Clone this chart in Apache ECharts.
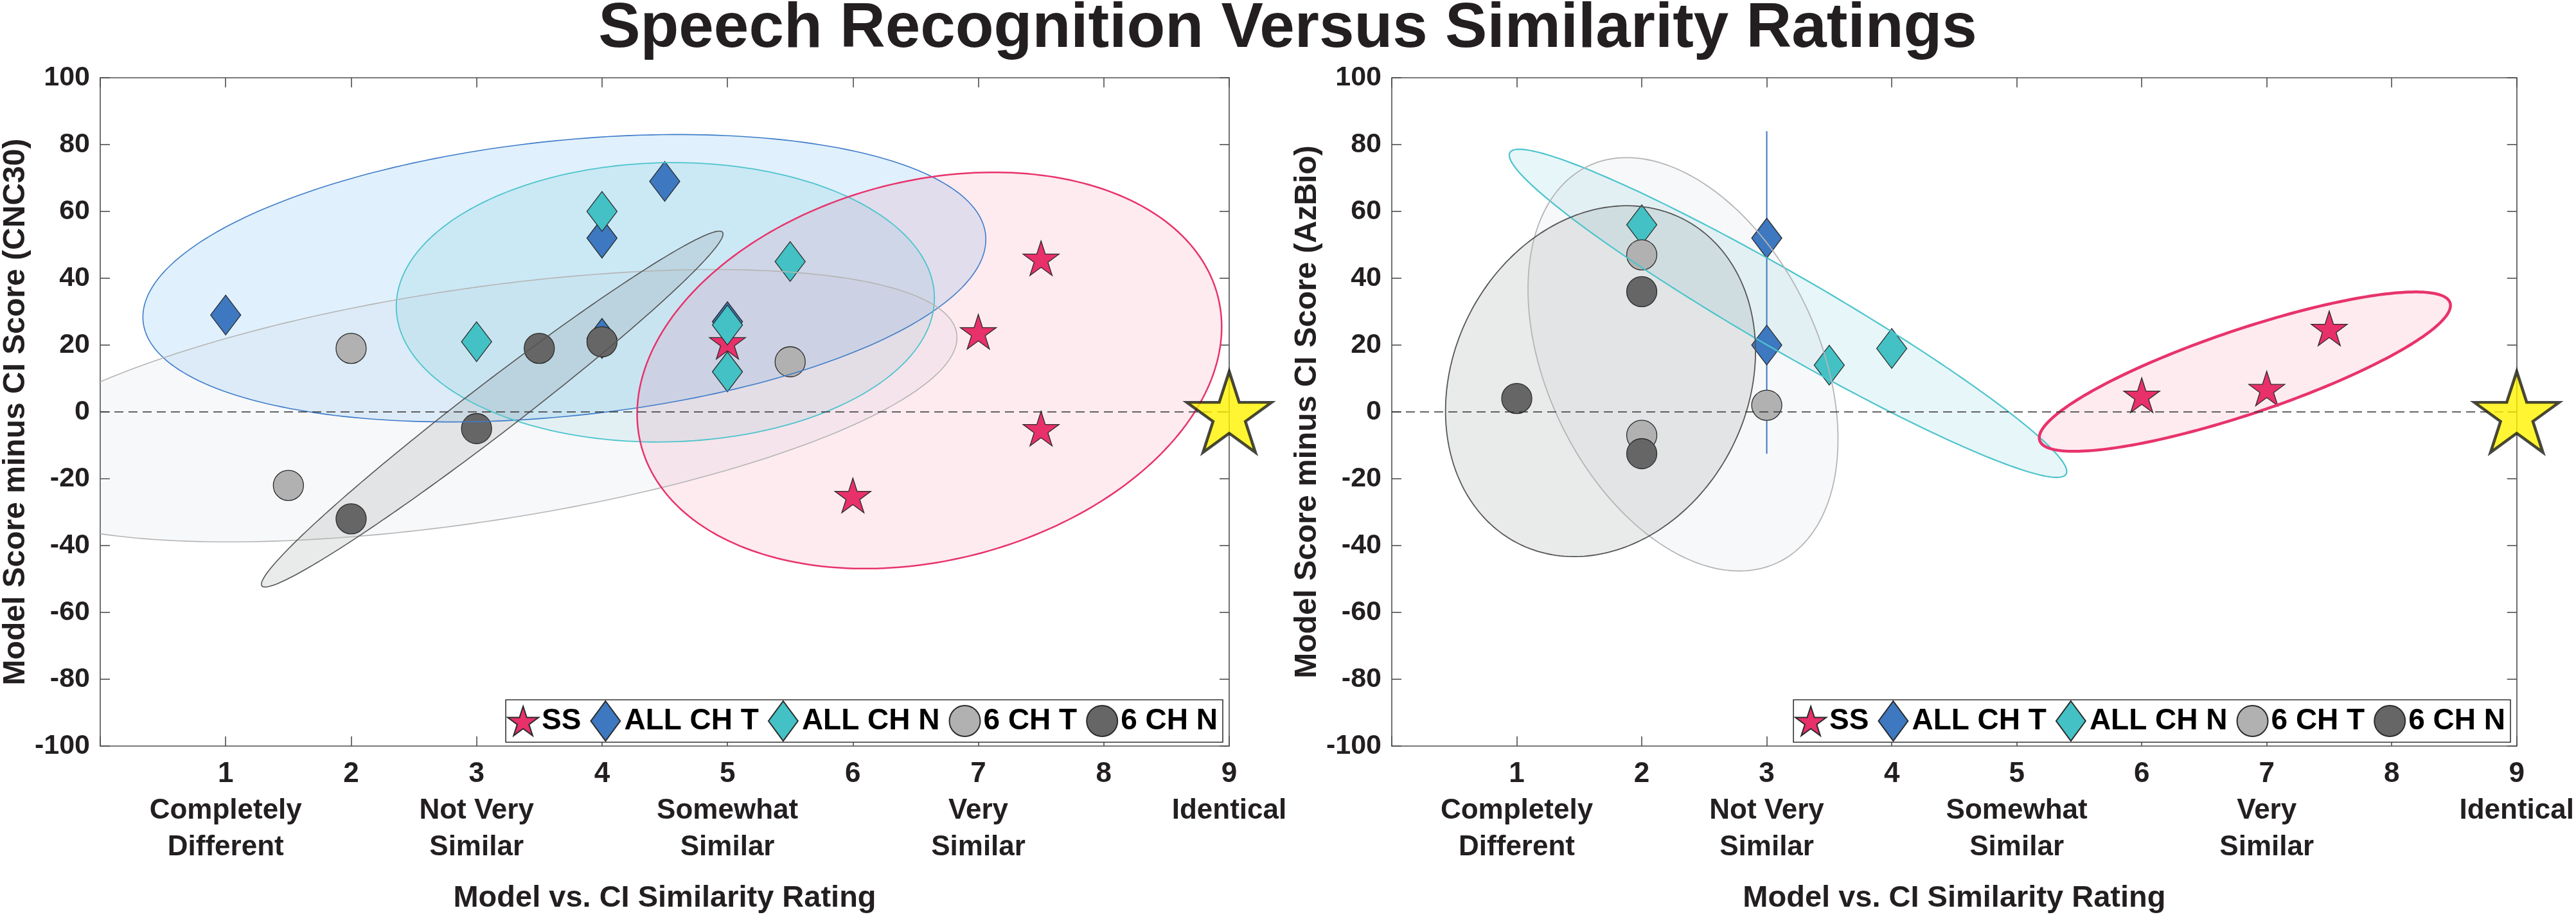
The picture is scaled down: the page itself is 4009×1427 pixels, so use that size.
<!DOCTYPE html>
<html><head><meta charset="utf-8">
<script src="https://cdn.jsdelivr.net/npm/echarts@6/dist/echarts.min.js"></script>
<style>html,body{margin:0;padding:0;background:#fff}#c{width:4009px;height:1427px}</style>
</head><body><div id="c"></div>
<script>
// ---------- DATA ----------
const groups = ['SS', 'ALL CH T', 'ALL CH N', '6 CH T', '6 CH N'];
const ratingWords = ['', 'Completely\nDifferent', '', 'Not Very\nSimilar', '', 'Somewhat\nSimilar', '', 'Very\nSimilar', '', 'Identical'];

// Left panel: CNC30  [rating, score difference]
const cncSS   = [[5, 21], [6, -25], [7, 24], [7.5, 46], [7.5, -5]];
const cncAllT = [[1, 29], [4, 52], [4, 22], [4.5, 69], [5, 27]];
const cncAllN = [[3, 21], [4, 60], [5, 26], [5, 12], [5.5, 45]];
const cnc6T   = [[1.5, -22], [2, 19], [5.5, 15]];
const cnc6N   = [[2, -32], [3, -5], [3.5, 19], [4, 21]];
// ellipses: [centerX, centerY, halfRangeX, halfRangeY, correlation, groupIndex]
const cncEllipses = [
  [3.70, 40.0, 3.36, 43.0, 0.27, 1],
  [4.505, 32.8, 2.145, 41.8, 0.03, 2],
  [2.96, 1.85, 3.87, 40.75, 0.50, 3],
  [3.125, 0.85, 1.84, 53.25, 0.984, 4],
  [6.61, 12.4, 2.33, 59.3, 0.22, 0]
];

// Right panel: AzBio
const azSS   = [[6, 5], [7, 7], [7.5, 25]];
const azAllT = [[3, 52], [3, 20]];
const azAllN = [[2, 56], [3.5, 14], [4, 19]];
const az6T   = [[2, 47], [2, -7], [3, 2]];
const az6N   = [[1, 4], [2, 36], [2, -12.5]];
const azAllTErrorBar = [[3, -12.5], [3, 84]];
const azEllipses = [
  [3.17, 29.5, 2.23, 49.1, -0.964, 2],
  [2.33, 14.25, 1.24, 61.85, -0.363, 3],
  [1.67, 9.2, 1.24, 52.5, 0.17, 4],
  [6.825, 12.05, 1.645, 23.85, 0.83, 0]
];

const identicalPoint = [[9, 0]];

// ---------- STYLE ----------
const FONT = 'Liberation Sans, Arial, Helvetica, sans-serif';
const STAR = 'path://M0,-1L0.2245,-0.309L0.9511,-0.309L0.3633,0.118L0.5878,0.809L0,0.382L-0.5878,0.809L-0.3633,0.118L-0.9511,-0.309L-0.2245,-0.309Z';
const DIAMOND = 'path://M0,-1L0.74,0L0,1L-0.74,0Z';
const markerStyle = [
  {symbol: STAR, size: [56, 54], color: '#e8306a'},
  {symbol: 'diamond', size: [47, 62], color: '#3d78c0'},
  {symbol: 'diamond', size: [47, 62], color: '#43c1c4'},
  {symbol: 'circle', size: 47, color: '#b1b1b1'},
  {symbol: 'circle', size: 47, color: '#666666'}
];
const ellipseStyle = [
  {fill: 'rgba(235,60,110,0.10)', stroke: '#e8336b', lw: [2.5, 4.5]},
  {fill: 'rgba(100,180,240,0.20)', stroke: '#3e7cc9', lw: [1.6, 1.6]},
  {fill: 'rgba(60,185,200,0.12)', stroke: '#4cc4cc', lw: [1.8, 2.2]},
  {fill: 'rgba(190,200,220,0.13)', stroke: '#b5b5b5', lw: [1.6, 1.8]},
  {fill: 'rgba(120,125,125,0.16)', stroke: '#555555', lw: [1.6, 1.8]}
];

const AX = '#4d4d4d';
const grids = [
  {left: 156, top: 121, width: 1757, height: 1043},
  {left: 2166, top: 121, width: 1753, height: 1043}
];
const yNames = ['Model Score minus CI Score (CNC30)', 'Model Score minus CI Score (AzBio)'];

const xAxes = [], yAxes = [];
grids.forEach((g, i) => {
  xAxes.push({
    gridIndex: i, type: 'value', min: 0, max: 9, interval: 1, position: 'bottom',
    axisLine: {show: true, onZero: false, lineStyle: {color: AX, width: 1.6}},
    axisTick: {show: true, inside: true, length: 15, lineStyle: {color: AX, width: 1.6}},
    splitLine: {show: false},
    axisLabel: {
      show: true, showMinLabel: true, showMaxLabel: true, margin: 15,
      fontFamily: FONT, fontWeight: 'bold', fontSize: 44, lineHeight: 57, color: '#231f20',
      formatter: v => v === 0 ? '' : (ratingWords[v] ? v + '\n' + ratingWords[v] : String(v))
    },
    name: 'Model vs. CI Similarity Rating', nameLocation: 'middle', nameGap: 214,
    nameTextStyle: {fontFamily: FONT, fontWeight: 'bold', fontSize: 47, color: '#231f20'}
  });
  xAxes.push({
    gridIndex: i, type: 'value', min: 0, max: 9, interval: 1, position: 'top',
    axisLine: {show: true, onZero: false, lineStyle: {color: AX, width: 1.6}},
    axisTick: {show: true, inside: true, length: 15, lineStyle: {color: AX, width: 1.6}},
    axisLabel: {show: false}, splitLine: {show: false}
  });
  yAxes.push({
    gridIndex: i, type: 'value', min: -100, max: 100, interval: 20, position: 'left',
    axisLine: {show: true, onZero: false, lineStyle: {color: AX, width: 1.6}},
    axisTick: {show: true, inside: true, length: 15, lineStyle: {color: AX, width: 1.6}},
    splitLine: {show: false},
    axisLabel: {margin: 16, fontFamily: FONT, fontWeight: 'bold', fontSize: 43, color: '#231f20'},
    name: yNames[i], nameLocation: 'middle', nameGap: 107, nameRotate: 90,
    nameTextStyle: {fontFamily: FONT, fontWeight: 'bold', fontSize: 48, color: '#231f20'}
  });
  yAxes.push({
    gridIndex: i, type: 'value', min: -100, max: 100, interval: 20, position: 'right',
    axisLine: {show: true, onZero: false, lineStyle: {color: AX, width: 1.6}},
    axisTick: {show: true, inside: true, length: 15, lineStyle: {color: AX, width: 1.6}},
    axisLabel: {show: false}, splitLine: {show: false}
  });
});

// mode 'fill' draws the translucent face, mode 'edge' draws the outline
function ellipseRenderer(panel, mode) {
  return function (params, api) {
    const cx = api.value(0), cy = api.value(1), wx = api.value(2), wy = api.value(3), rho = api.value(4), k = api.value(5);
    const phi = Math.acos(rho);
    const pts = [];
    for (let i = 0; i <= 240; i++) {
      const t = i / 240 * 2 * Math.PI;
      pts.push(api.coord([cx + wx * Math.cos(t), cy + wy * Math.cos(t - phi)]));
    }
    const st = ellipseStyle[k];
    const cs = params.coordSys;
    const style = mode === 'fill'
      ? {fill: st.fill, stroke: null, lineWidth: 0}
      : {fill: null, stroke: st.stroke, lineWidth: st.lw[panel]};
    return {
      type: 'polygon', shape: {points: pts}, style: style,
      clipPath: {type: 'rect', shape: {x: cs.x, y: cs.y, width: cs.width, height: cs.height}}
    };
  };
}

const panelData = [
  [cncSS, cncAllT, cncAllN, cnc6T, cnc6N],
  [azSS, azAllT, azAllN, az6T, az6N]
];
const panelEllipses = [cncEllipses, azEllipses];

const series = [];
[0, 1].forEach(p => {
  series.push({
    type: 'custom', xAxisIndex: p * 2, yAxisIndex: p * 2, data: panelEllipses[p],
    renderItem: ellipseRenderer(p, 'fill'), clip: true, silent: true, z: 1,
    encode: {x: 0, y: 1}
  });
});
// error bar (below markers)
series.push({
  type: 'line', xAxisIndex: 2, yAxisIndex: 2, data: azAllTErrorBar, symbol: 'none', silent: true,
  lineStyle: {color: '#3d78c0', width: 2}, z: 1
});
[0, 1].forEach(p => {
  panelData[p].forEach((d, k) => {
    const m = markerStyle[k];
    series.push({
      name: groups[k], type: 'scatter', xAxisIndex: p * 2, yAxisIndex: p * 2, data: d,
      symbol: m.symbol, symbolSize: m.size,
      itemStyle: {color: m.color, borderColor: '#2b2b2b', borderWidth: 1.3, opacity: 1},
      z: 2
    });
  });
  series.push({
    type: 'custom', xAxisIndex: p * 2, yAxisIndex: p * 2, data: panelEllipses[p],
    renderItem: ellipseRenderer(p, 'edge'), clip: true, silent: true, z: 3,
    encode: {x: 0, y: 1}
  });
  series.push({
    type: 'scatter', xAxisIndex: p * 2, yAxisIndex: p * 2, data: identicalPoint,
    symbol: STAR, symbolSize: [132, 126], clip: false, silent: true,
    itemStyle: {color: '#fff200', borderColor: '#1a1a1a', borderWidth: 4.5},
    z: 5,
    markLine: {
      silent: true, symbol: 'none', label: {show: false}, z: 4,
      lineStyle: {color: '#333333', width: 1.6, type: [14, 8]},
      data: [{yAxis: 0}]
    }
  });
});

const legendData = groups.map((g, k) => ({
  name: g,
  icon: k === 0 ? STAR : (k === 1 || k === 2 ? DIAMOND : 'circle')
}));
const legends = [2106, 102].map(r => ({
  data: legendData, right: r, top: 1089, orient: 'horizontal',
  itemWidth: 48, itemHeight: 62, itemGap: 14, padding: [1, 8, 1, 2],
  backgroundColor: '#ffffff', borderColor: '#333333', borderWidth: 1.6,
  textStyle: {fontFamily: FONT, fontWeight: 'bold', fontSize: 46, color: '#000'},
  selectedMode: false
}));

const chart = echarts.init(document.getElementById('c'), null, {renderer: 'canvas'});
chart.setOption({
  animation: false,
  backgroundColor: '#ffffff',
  graphic: [{
    type: 'text', x: 2004, y: 46, z: 10,
    style: {text: 'Speech Recognition Versus Similarity Ratings', font: 'bold 98px ' + FONT,
            fill: '#231f20', textAlign: 'center', textVerticalAlign: 'middle'}
  }],
  grid: grids,
  xAxis: xAxes,
  yAxis: yAxes,
  legend: legends,
  series: series
});
</script></body></html>
